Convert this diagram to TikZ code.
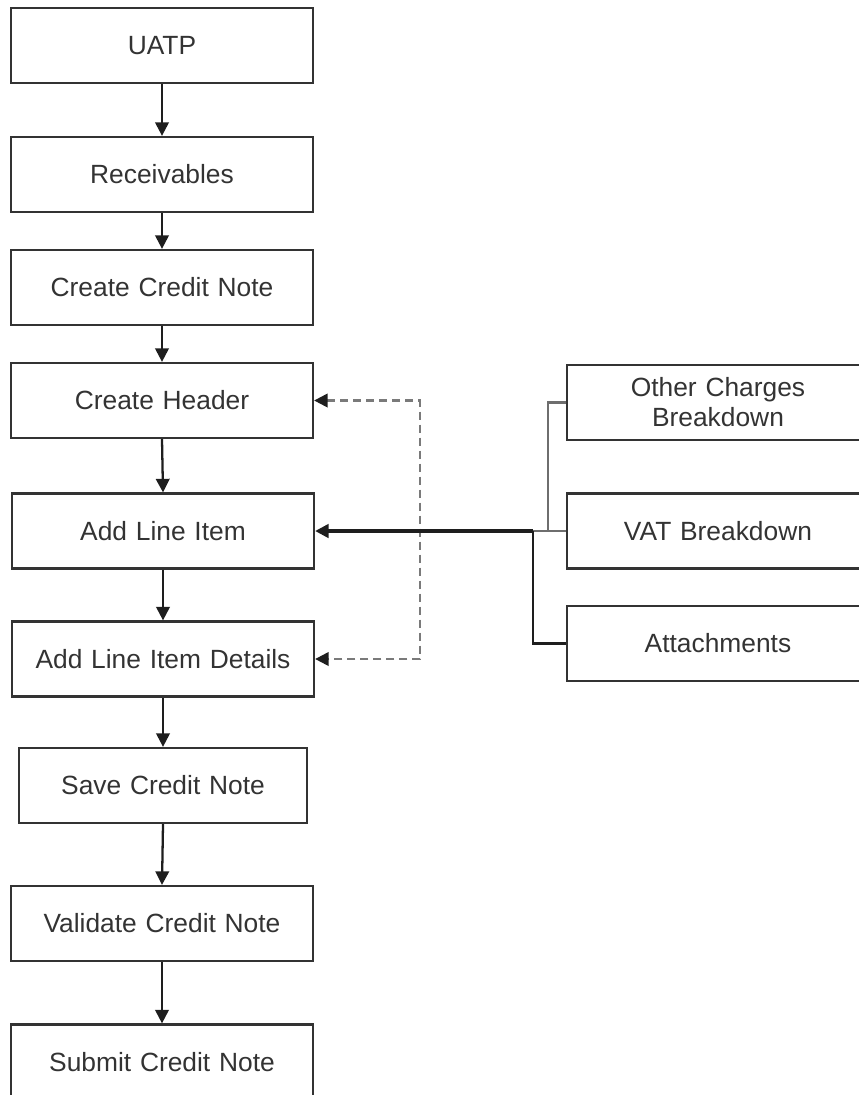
\documentclass[tikz,border=0pt]{standalone}
\usepackage{fontspec}
\setmainfont{Liberation Sans}
\usetikzlibrary{positioning,arrows.meta}
\definecolor{ink}{HTML}{333333}
\definecolor{darkline}{HTML}{1E1E1E}
\definecolor{midgray}{HTML}{6E6E6E}
\definecolor{dashgray}{HTML}{7A7A7A}

\begin{document}
\begin{tikzpicture}[font=\fontsize{15}{17}\selectfont,stage/.style={draw=ink,line width=1.3pt,minimum width=6.04cm,minimum height=1.5cm,text width=5.7cm,align=center,text=ink,inner sep=2pt},tip/.style={-{Triangle[length=2.7mm,width=2.7mm]}}]
\useasboundingbox (0,0) rectangle (17.18,-21.9);
\node[stage] (uatp) at (3.24,-0.91) {UATP};
\node[stage] (recv) at (3.24,-3.49) {Receivables};
\node[stage] (credit) at (3.24,-5.75) {Create Credit Note};
\node[stage] (header) at (3.24,-8.01) {Create Header};
\node[stage] (line) at (3.26,-10.62) {Add Line Item};
\node[stage] (details) at (3.26,-13.18) {Add Line Item Details};
\node[stage,minimum width=5.76cm,text width=5.4cm] (save) at (3.26,-15.71) {Save Credit Note};
\node[stage] (valid) at (3.24,-18.47) {Validate Credit Note};
\node[stage] (submit) at (3.24,-21.24) {Submit Credit Note};
\node[stage] (other) at (14.36,-8.05) {Other Charges\\Breakdown};
\node[stage] (vat) at (14.36,-10.62) {VAT Breakdown};
\node[stage] (attach) at (14.36,-12.87) {Attachments};
\foreach \a/\b in {uatp/recv,recv/credit,credit/header,header/line,line/details,details/save,save/valid,valid/submit}{\draw[tip,line width=1.3pt,draw=darkline] (\a.south) -- (\b.north);}
\coordinate (loop) at (8.4,-10.62);
\draw[{Triangle[length=2.7mm,width=2.7mm,color=darkline]}-{Triangle[length=2.7mm,width=2.7mm,color=darkline]},line width=1.3pt,draw=dashgray,dash pattern=on 1.6mm off 1mm] (header.east) -| (loop) |- (details.east);
\coordinate (jup) at (10.96,-10.62);
\coordinate (jdn) at (10.66,-10.62);
\draw[line width=1.3pt,draw=midgray] (other.west) -| (jup);
\draw[line width=1.3pt,draw=midgray] (vat.west) -- (jdn);
\draw[line width=1.3pt,draw=darkline] (attach.west) -| (jdn);
\draw[tip,line width=1.8pt,draw=darkline] (jdn) -- (line.east);
\end{tikzpicture}
\end{document}
